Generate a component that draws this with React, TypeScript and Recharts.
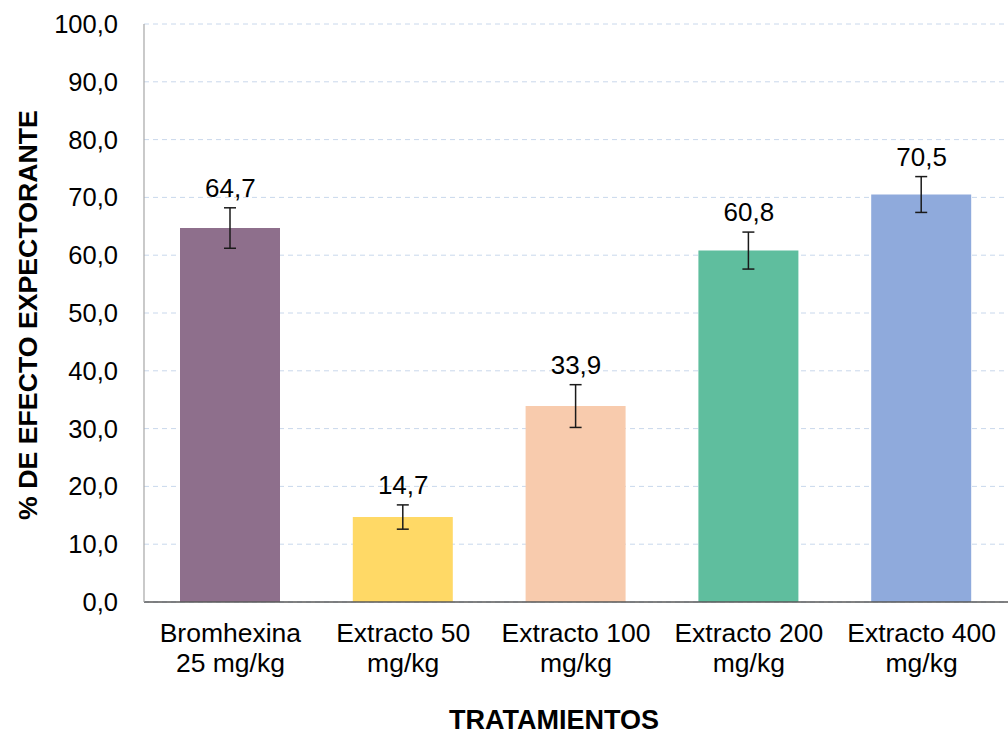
import React from "react";
import {
  ComposedChart,
  Bar,
  Line,
  XAxis,
  YAxis,
  CartesianGrid,
  ErrorBar,
  LabelList,
  Cell,
  Label,
} from "recharts";

const categories = [
  "Bromhexina\n25 mg/kg",
  "Extracto 50\nmg/kg",
  "Extracto 100\nmg/kg",
  "Extracto 200\nmg/kg",
  "Extracto 400\nmg/kg",
];
const values = [64.7, 14.7, 33.9, 60.8, 70.5];
const errors = [3.5, 2.1, 3.7, 3.2, 3.1];
const colors = ["#8E6F8C", "#FFD966", "#F8CBAD", "#5FBE9E", "#8FAADC"];
const yTicks = [0, 10, 20, 30, 40, 50, 60, 70, 80, 90, 100];

const data = categories.map((c, i) => ({
  name: c,
  value: values[i],
  err: errors[i],
  top: values[i] + errors[i],
}));

const fmt = (v: number) => v.toFixed(1).replace(".", ",");

const XTick = (props: any) => {
  const { x, y, payload } = props;
  const lines = String(payload.value).split("\n");
  return (
    <text x={x} y={y} textAnchor="middle" fontSize={26.5} fill="#000">
      {lines.map((l, i) => (
        <tspan key={i} x={x} dy={i === 0 ? 32 : 30}>
          {l}
        </tspan>
      ))}
    </text>
  );
};

export default function App() {
  return (
    <div
      style={{
        position: "absolute",
        left: 0,
        top: 0,
        width: 1008,
        height: 734,
        background: "#fff",
        fontFamily: "'Liberation Sans', Arial, sans-serif",
      }}
    >
      <ComposedChart
        width={1008}
        height={734}
        data={data}
        margin={{ top: 24, right: 0, left: 0, bottom: 0 }}
      >
        <CartesianGrid
          vertical={false}
          stroke="#C9D8EC"
          strokeDasharray="5 4"
        />
        <XAxis
          dataKey="name"
          height={132}
          tickLine={false}
          axisLine={{ stroke: "#595959", strokeWidth: 1.5 }}
          tick={<XTick />}
          interval={0}
        >
          <Label
            content={() => (
              <text
                x={554}
                y={729}
                textAnchor="middle"
                fontSize={27}
                fontWeight="bold"
                fill="#000"
              >
                TRATAMIENTOS
              </text>
            )}
          />
        </XAxis>
        <YAxis
          width={144}
          domain={[0, 100]}
          ticks={yTicks}
          tickFormatter={fmt}
          tickLine={false}
          tickSize={6}
          tickMargin={20}
          axisLine={{ stroke: "#A6A6A6", strokeWidth: 1.2 }}
          tick={{ fontSize: 25.5, fill: "#000" }}
          interval={0}
        >
          <Label
            content={() => (
              <text
                x={37}
                y={315}
                transform="rotate(-90, 37, 315)"
                textAnchor="middle"
                fontSize={26.7}
                fontWeight="bold"
                fill="#000"
              >
                % DE EFECTO EXPECTORANTE
              </text>
            )}
          />
        </YAxis>
        <Bar dataKey="value" barSize={100} isAnimationActive={false}>
          {data.map((d, i) => (
            <Cell key={i} fill={colors[i]} />
          ))}
          <ErrorBar
            dataKey="err"
            width={6}
            stroke="#1a1a1a"
            strokeWidth={1.5}
            direction="y"
          />
        </Bar>
        <Line
          dataKey="top"
          stroke="none"
          dot={false}
          activeDot={false}
          isAnimationActive={false}
          legendType="none"
        >
          <LabelList
            dataKey="value"
            position="top"
            offset={11}
            formatter={(v: any) => fmt(Number(v))}
            style={{ fontSize: 26, fill: "#000" }}
          />
        </Line>
      </ComposedChart>
    </div>
  );
}
